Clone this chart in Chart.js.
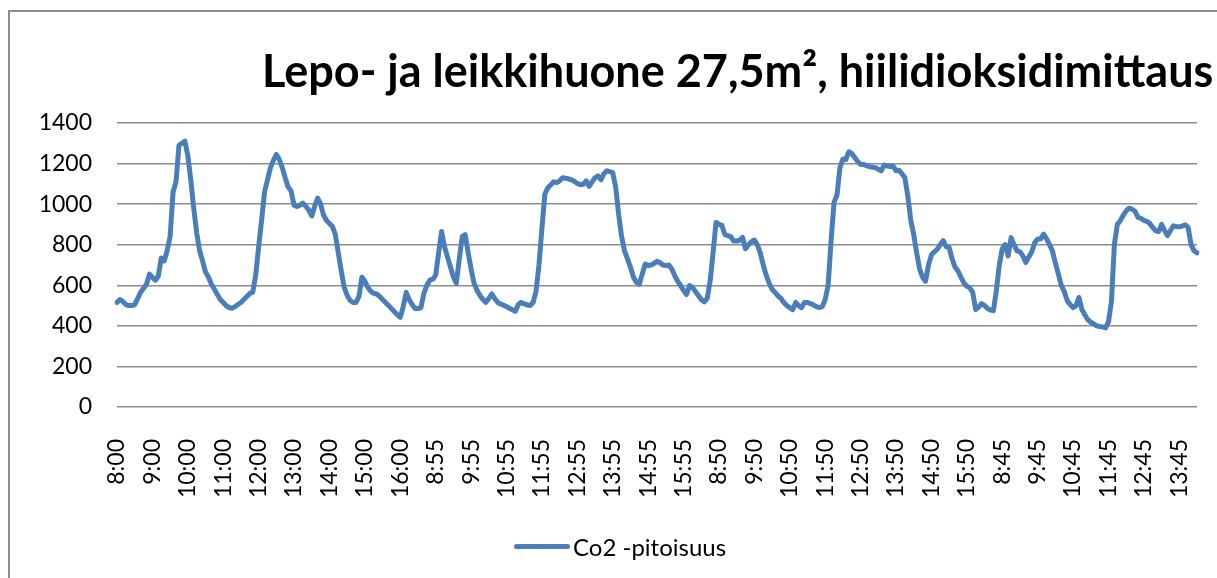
<!DOCTYPE html>
<html lang="fi">
<head>
    <meta charset="UTF-8">
    <title>Lepo- ja leikkihuone 27,5m², hiilidioksidimittaus</title>
    <script src="https://cdn.jsdelivr.net/npm/chart.js"></script>
    <style>
        html, body {
            margin: 0;
            padding: 0;
            background: #ffffff;
            overflow: hidden;
            font-family: Lato, "Open Sans", sans-serif;
        }
        #wrap {
            position: relative;
            width: 1217px;
            height: 578px;
            overflow: hidden;
        }
        /* kaavion kehys, oikea ja ala reuna jäävät kuvan ulkopuolelle */
        #frame {
            position: absolute;
            left: 8px;
            top: 10px;
            width: 1400px;
            height: 800px;
            border: 2px solid #8c8c8c;
        }
        #chartBox {
            position: absolute;
            left: 0;
            top: 0;
            width: 1217px;
            height: 578px;
        }
        #title {
            position: absolute;
            left: 262px;
            top: 42px;
            font-weight: bold;
            font-size: 45px;
            line-height: 56px;
            color: #000;
            white-space: nowrap;
        }
        #legend {
            position: absolute;
            left: 514px;
            top: 532px;
            height: 28px;
            display: flex;
            align-items: center;
            font-size: 24px;
            color: #000;
            white-space: nowrap;
        }
        #legend .swatch {
            width: 56px;
            height: 5px;
            border-radius: 3px;
            background: #4a7ebb;
            margin-right: 3px;
        }
    </style>
</head>
<body>
<div id="wrap">
    <div id="frame"></div>
    <div id="chartBox"><canvas id="co2Chart"></canvas></div>
    <div id="title">Lepo- ja leikkihuone 27,5m², hiilidioksidimittaus</div>
    <div id="legend"><span class="swatch"></span><span id="legendText"></span></div>
</div>

<script>
    // mittaukset 5 min välein klo 8:00 alkaen, neljä päivää
    const seriesName = 'Co2 -pitoisuus';
    const day1 = [
        515, 530, 520, 505, 500, 500, 505, 535, 565, 585,
        605, 655, 640, 625, 645, 735, 720, 770, 840, 1060,
        1110, 1290, 1300, 1310, 1240, 1120, 980, 860, 770, 720,
        665, 640, 605, 580, 555, 530, 515, 500, 490, 487,
        495, 505, 515, 530, 545, 560, 565, 650, 790, 920,
        1060, 1120, 1180, 1215, 1245, 1220, 1180, 1130, 1085, 1065,
        995, 988, 995, 1005, 990, 970, 942, 990, 1030, 1000,
        945, 920, 905, 890, 850, 760, 670, 590, 550, 525,
        515, 515, 545, 640, 620, 590, 570, 560, 557, 545,
        530, 515, 500, 485, 470, 455, 442
    ];
    const day2 = [
        495, 565, 530, 505, 485, 485, 490, 560, 600, 625,
        630, 650, 760, 865, 790, 740, 690, 640, 610, 730,
        840, 850, 760, 680, 610, 575, 550, 530, 516, 535,
        557, 535, 516, 508, 502, 495, 487, 480, 472, 505,
        516, 508, 503, 500, 515, 570, 700, 880, 1050, 1080,
        1095, 1110, 1106, 1115, 1130, 1128, 1125, 1120, 1112, 1102,
        1095, 1098, 1115, 1088, 1110, 1131, 1139, 1120, 1150, 1164,
        1160, 1155, 1085, 950, 840, 770, 730, 690, 640, 615,
        606, 655, 705, 698, 700, 708, 718, 712, 700, 697,
        700, 680, 648, 620, 598, 575, 555
    ];
    const day3 = [
        598, 590, 570, 550, 530, 518, 535, 620, 760, 910,
        900, 895, 850, 845, 840, 818, 818, 822, 836, 780,
        800, 815, 823, 800, 760, 700, 650, 610, 580, 565,
        548, 535, 515, 500, 490, 480, 516, 500, 490, 515,
        515, 510, 503, 495, 490, 495, 530, 600, 820, 1010,
        1045, 1180, 1222, 1220, 1258, 1250, 1230, 1210, 1196, 1196,
        1190, 1185, 1182, 1180, 1172, 1164, 1193, 1188, 1185, 1188,
        1165, 1167, 1150, 1131, 1040, 920, 850, 760, 680, 640,
        620, 700, 750, 765, 778, 800, 820, 790, 787, 730,
        690, 670, 640, 612, 595, 588, 565
    ];
    const day4 = [
        480, 492, 510, 500, 485, 478, 475, 574, 700, 780,
        800, 745, 835, 800, 770, 765, 745, 713, 740, 765,
        810, 828, 828, 852, 830, 800, 770, 710, 656, 600,
        570, 525, 505, 490, 500, 540, 480, 455, 430, 418,
        410, 400, 397, 395, 390, 420, 520, 800, 900, 918,
        945, 967, 980, 975, 965, 935, 930, 920, 915, 905,
        885, 868, 865, 900, 870, 845, 870, 893, 890, 888,
        892, 898, 885, 800, 770, 760
    ];
    const days = [day1, day2, day3, day4];
    const firstTime = 8 * 60;   // 8:00
    const stepMin = 5;
    const labelEvery = 12;      // akselilla näytetään joka tunti

    const blue = '#4a7ebb';
    const gridColor = '#8c8c8c';
    const tickFont = { family: 'Lato', size: 23 };

    // kategoriat: kellonajat päivittäin
    const labels = [];
    const values = [];
    days.forEach(day => {
        day.forEach((v, k) => {
            const t = firstTime + k * stepMin;
            labels.push(Math.floor(t / 60) + ':' + String(t % 60).padStart(2, '0'));
            values.push(v);
        });
    });

    document.getElementById('legendText').innerText = seriesName;

    const ctx = document.getElementById('co2Chart').getContext('2d');
    const co2Chart = new Chart(ctx, {
        type: 'line',
        data: {
            labels: labels,
            datasets: [{
                label: seriesName,
                data: values,
                borderColor: blue,
                backgroundColor: blue,
                borderWidth: 5,
                pointRadius: 0,
                tension: 0,
                borderJoinStyle: 'round',
                borderCapStyle: 'round'
            }]
        },
        options: {
            responsive: true,
            maintainAspectRatio: false,
            animation: false,
            layout: {
                padding: { top: 123, right: 20, bottom: 0, left: 0 }
            },
            scales: {
                x: {
                    type: 'category',
                    offset: false,
                    grid: { display: false },
                    border: { display: false },
                    afterFit: s => {
                        s.height = 171;
                        s.paddingLeft = 0;
                        s.paddingRight = 0;
                    },
                    ticks: {
                        autoSkip: false,
                        minRotation: 90,
                        maxRotation: 90,
                        padding: 24,
                        color: '#000',
                        font: tickFont,
                        callback: function (value, index) {
                            return index % labelEvery === 0 ? this.getLabelForValue(value) : null;
                        }
                    }
                },
                y: {
                    min: 0,
                    max: 1400,
                    afterFit: s => { s.width = 117; },
                    grid: {
                        color: gridColor,
                        lineWidth: 1.5,
                        drawTicks: false
                    },
                    border: { display: false },
                    ticks: {
                        stepSize: 200,
                        padding: 25,
                        color: '#000',
                        font: tickFont,
                        callback: v => String(v)
                    }
                }
            },
            plugins: {
                legend: { display: false },
                title: { display: false },
                tooltip: { enabled: false }
            }
        }
    });
</script>
</body>
</html>
